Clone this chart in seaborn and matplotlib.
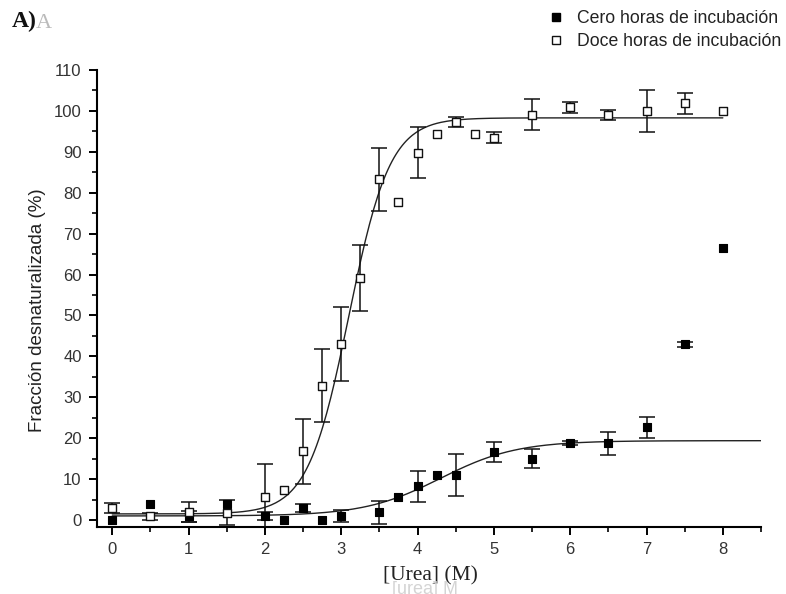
import numpy as np
import pandas as pd
import matplotlib
matplotlib.use("Agg")
import matplotlib.pyplot as plt
import seaborn as sns
from matplotlib.ticker import MultipleLocator
from matplotlib.lines import Line2D

# ---- data ----
x_doce = [0, 0.5, 1, 1.5, 2, 2.25, 2.5, 2.75, 3, 3.25, 3.5, 3.75, 4, 4.25, 4.5,
          4.75, 5, 5.5, 6, 6.5, 7, 7.5, 8]
y_doce = [3.0, 0.9, 2.0, 1.8, 5.6, 7.4, 16.8, 32.8, 43.1, 59.2, 83.3, 77.8, 89.8,
          94.3, 97.2, 94.3, 93.5, 99.1, 100.9, 99.1, 100.0, 101.9, 100.0]
e_doce = [1.2, 0.9, 2.5, 3.0, 8.1, 0, 8.0, 8.9, 9.0, 8.1, 7.7, 0, 6.3, 0, 1.2,
          0, 1.4, 3.8, 1.4, 1.2, 5.2, 2.6, 0]

x_cero = [0, 0.5, 1, 1.5, 2, 2.25, 2.5, 2.75, 3, 3.5, 3.75, 4, 4.25, 4.5, 5,
          5.5, 6, 6.5, 7, 7.5, 8]
y_cero = [0.0, 3.9, 0.9, 3.9, 1.0, 0.0, 2.9, 0.0, 1.0, 1.9, 5.6, 8.2, 11.0, 11.0,
          16.7, 15.0, 18.8, 18.8, 22.7, 43.0, 66.5]
e_cero = [0, 0, 1.4, 0, 1.0, 0, 1.0, 0, 1.5, 2.8, 0, 3.8, 0, 5.2, 2.4, 2.4,
          0.5, 2.8, 2.6, 0.6, 0]

# Boltzmann fit parameters (A1 bottom, A2 top, x0 centre, dx width) and range
fit_doce = dict(A1=1.5, A2=98.3, x0=3.1, dx=0.27, xmin=0.0, xmax=8.0)
fit_cero = dict(A1=1.0, A2=19.4, x0=4.3, dx=0.50, xmin=0.0, xmax=8.5)

labels = ["Cero horas de incubación", "Doce horas de incubación"]
x_ticks = [0, 1, 2, 3, 4, 5, 6, 7, 8]
y_ticks = [0, 10, 20, 30, 40, 50, 60, 70, 80, 90, 100, 110]


def boltzmann(p, n=300):
    xs = np.linspace(p["xmin"], p["xmax"], n)
    ys = p["A2"] + (p["A1"] - p["A2"]) / (1 + np.exp((xs - p["x0"]) / p["dx"]))
    return pd.DataFrame({"x": xs, "y": ys})


sns.set_theme(style="ticks")
plt.rcParams["font.family"] = ["Liberation Sans", "DejaVu Sans"]
SERIF = ["Liberation Serif", "DejaVu Serif"]

fig = plt.figure(figsize=(7.86, 5.94), dpi=100)
ax = fig.add_axes([97 / 786, 1 - 527 / 594, (761 - 97) / 786, (527 - 70) / 594])

# fitted curves
sns.lineplot(data=boltzmann(fit_doce), x="x", y="y", ax=ax, color="#222222",
             linewidth=1.0, zorder=2)
sns.lineplot(data=boltzmann(fit_cero), x="x", y="y", ax=ax, color="#222222",
             linewidth=1.0, zorder=2)

# error bars
for xs, ys, es in [(x_doce, y_doce, e_doce), (x_cero, y_cero, e_cero)]:
    xs_a, ys_a, es_a = np.array(xs), np.array(ys), np.array(es)
    m = es_a > 0
    ax.errorbar(xs_a[m], ys_a[m], yerr=es_a[m], fmt="none", ecolor="#111111",
                elinewidth=1.1, capsize=6, capthick=1.1, zorder=3)

df_c = pd.DataFrame({"x": x_cero, "y": y_cero})
df_d = pd.DataFrame({"x": x_doce, "y": y_doce})
sns.scatterplot(data=df_c, x="x", y="y", ax=ax, marker="s", s=40,
                color="black", edgecolor="black", linewidth=0.8, zorder=4)
sns.scatterplot(data=df_d, x="x", y="y", ax=ax, marker="s", s=40,
                facecolor="white", edgecolor="#111111", linewidth=1.0, zorder=4)

ax.set_xlim(-0.2, 8.5)
ax.set_ylim(-1.7, 110)
ax.set_xticks(x_ticks)
ax.set_yticks(y_ticks)
ax.xaxis.set_minor_locator(MultipleLocator(0.5))
ax.yaxis.set_minor_locator(MultipleLocator(5))
ax.tick_params(which="major", direction="out", length=6, width=1.4,
               labelsize=12, labelcolor="#333333", color="black", pad=5)
ax.tick_params(which="minor", direction="out", length=3.5, width=1.2,
               color="black")
for s in ["top", "right"]:
    ax.spines[s].set_visible(False)
for s in ["left", "bottom"]:
    ax.spines[s].set_linewidth(1.5)
    ax.spines[s].set_color("black")

ax.set_xlabel("[Urea] (M)", fontsize=15.5, family=SERIF, color="#222222")
ax.xaxis.set_label_coords((430 - 97) / (761 - 97), -(576 - 527) / (527 - 70))
ax.set_ylabel("Fracción desnaturalizada (%)", fontsize=13.5, color="#222222")
ax.yaxis.set_label_coords(-(97 - 38) / (761 - 97), (527 - 310) / (527 - 70))
ax.yaxis.label.set_va("center")
ax.xaxis.label.set_va("center")

# faint ghost texts present in the original image
fig.text(425 / 786, 1 - 590 / 594, "[urea] M", fontsize=13, color="#d4d4d4",
         ha="center", va="center", zorder=0)
fig.text(12 / 786, 1 - 21 / 594, "A)", fontsize=17, fontweight="bold",
         family=SERIF, color="#111111", ha="left", va="center")
fig.text(36 / 786, 1 - 23 / 594, "A", fontsize=16, family=SERIF,
         color="#bbbbbb", ha="left", va="center")

# legend
handles = [Line2D([], [], marker="s", linestyle="none", markersize=6,
                  markerfacecolor="black", markeredgecolor="black"),
           Line2D([], [], marker="s", linestyle="none", markersize=6,
                  markerfacecolor="white", markeredgecolor="#111111")]
leg = fig.legend(handles, labels, loc="upper right",
                 bbox_to_anchor=(1.006, 1.0), frameon=False, fontsize=12.7,
                 handlelength=1.0, handletextpad=0.7, labelspacing=0.35,
                 borderaxespad=0.15)
for t in leg.get_texts():
    t.set_color("#222222")

fig.savefig("out.png", dpi=100)
